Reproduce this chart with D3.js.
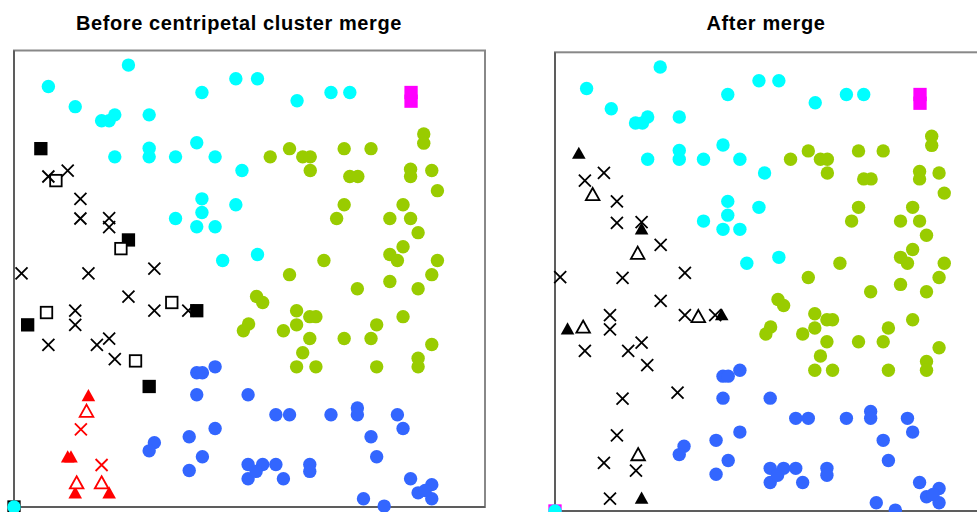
<!DOCTYPE html>
<html lang="en">
  <head>
    <meta charset="utf-8" />
    <title>Centripetal cluster merge</title>
    <script src="https://d3js.org/d3.v7.min.js"></script>
    <style>
      body { margin: 0; background: #fff; }
      svg { display: block; font-family: "Liberation Sans", Arial, sans-serif; }
    </style>
  </head>
  <body>
    <div id="chart"></div>
    <script>
      // point positions in data units (0..100 on both axes, y up)
      const cyanPts = [
        [24.3, 96.8], [7.3, 92.1], [13.0, 87.7], [18.6, 84.6], [20.2, 84.6],
        [21.4, 85.9], [28.7, 85.9], [39.9, 90.8], [47.1, 93.8], [51.7, 93.8],
        [60.1, 89.0], [67.3, 90.8], [71.3, 90.8], [21.4, 76.7], [28.7, 78.6],
        [28.7, 76.7], [34.3, 76.7], [38.8, 79.8], [42.7, 76.7], [48.4, 73.7],
        [39.9, 67.5], [47.1, 66.2], [39.9, 64.5], [34.3, 63.2], [38.8, 61.4],
        [42.7, 61.4], [44.3, 54.0], [51.7, 55.3], [0, 0]
      ];
      const magentaPts = [[84.3, 90.8], [84.3, 88.9]];
      const greenPts = [
        [54.4, 76.7], [58.5, 78.5], [61.3, 76.7], [62.9, 76.7], [62.9, 73.7],
        [70.1, 78.5], [75.8, 78.5], [71.3, 72.4], [73.0, 72.4], [87.0, 81.7],
        [87.0, 79.7], [84.2, 74.0], [84.2, 72.4], [88.7, 73.7], [89.9, 69.3],
        [70.1, 66.2], [68.5, 63.2], [82.6, 66.2], [79.8, 63.2], [84.2, 63.2],
        [85.8, 60.1], [82.6, 57.0], [79.8, 55.3], [81.4, 54.0], [89.9, 54.0],
        [65.8, 54.0], [58.5, 50.9], [79.8, 49.4], [88.7, 50.9], [72.9, 47.8],
        [85.8, 47.8], [51.5, 46.1], [52.8, 44.8], [60.0, 43.0], [62.8, 41.7],
        [64.1, 41.7], [60.0, 39.9], [49.8, 40.1], [48.7, 38.6], [57.2, 38.6],
        [62.8, 36.9], [70.1, 36.9], [75.8, 36.9], [77.0, 39.9], [82.6, 41.7],
        [88.7, 35.6], [61.3, 33.8], [60.0, 30.7], [64.1, 30.7], [77.0, 30.7],
        [85.8, 32.6], [85.8, 30.7]
      ];
      const bluePts = [
        [38.8, 29.4], [40.0, 29.4], [42.7, 30.7], [38.8, 24.6], [49.7, 24.6],
        [42.7, 17.2], [37.2, 15.4], [29.8, 14.1], [28.7, 12.3], [40.0, 11.0],
        [37.2, 8.0], [49.7, 9.3], [49.7, 6.2], [55.6, 20.2], [58.5, 20.2],
        [67.3, 20.2], [72.9, 21.7], [72.9, 20.2], [81.4, 20.2], [82.6, 17.2],
        [75.8, 15.4], [77.0, 11.0], [52.8, 9.3], [51.4, 7.8], [55.6, 9.3],
        [57.2, 6.2], [62.8, 9.3], [62.8, 7.8], [74.2, 1.8], [78.6, 0.2],
        [84.2, 6.2], [85.8, 3.1], [88.7, 4.9], [88.7, 1.8], [87.3, 3.6]
      ];

      // before merge: black and red groups
      const beforeFilledSq = [[5.7, 78.5], [24.3, 58.5], [38.8, 43.0], [2.9, 39.9], [28.7, 26.4], [0, 0]];
      const beforeOpenSq = [[8.9, 71.5], [22.7, 56.6], [33.5, 44.8], [6.9, 42.6], [25.8, 32.0]];
      const beforeCross = [
        [7.3, 72.4], [11.4, 73.7], [14.1, 67.5], [14.1, 63.2], [20.2, 63.3],
        [20.2, 61.3], [1.6, 51.2], [15.8, 51.2], [29.8, 52.2], [24.3, 46.1],
        [29.8, 43.0], [37.0, 43.0], [13.0, 43.0], [13.0, 39.9], [7.3, 35.5],
        [17.6, 35.5], [20.2, 36.9], [21.4, 32.4]
      ];
      const redFilledTri = [[15.8, 24.3], [11.4, 10.9], [12.1, 10.9], [13.0, 3.0], [20.2, 3.0]];
      const redOpenTri = [[15.4, 20.9], [13.3, 5.2], [18.6, 5.2]];
      const redCross = [[14.2, 17.0], [18.6, 9.2]];

      // after merge: one black group
      const afterFilledTri = [[5.5, 77.9], [20.0, 61.4], [38.5, 42.7], [2.9, 39.6], [20.0, 2.7]];
      const afterOpenTri = [[8.7, 68.9], [19.1, 56.1], [33.1, 42.3], [6.5, 40.0], [19.2, 12.2]];
      const afterCross = [
        [11.3, 73.7], [6.9, 72.0], [14.3, 67.5], [14.3, 62.8], [20.0, 63.0],
        [24.4, 58.0], [1.2, 51.0], [15.6, 50.8], [30.0, 51.9], [24.4, 45.8],
        [30.0, 42.7], [37.0, 42.7], [12.7, 42.7], [12.7, 39.6], [6.9, 34.9],
        [16.9, 34.9], [20.0, 36.7], [21.3, 31.8], [15.6, 24.5], [28.3, 25.8],
        [14.3, 16.5], [11.3, 10.5], [18.7, 8.8], [12.7, 2.7]
      ];
      const afterOriginSq = [[0, 0]];

      const titles = ["Before centripetal cluster merge", "After merge"];

      const width = 977;
      const height = 512;
      const svg = d3.select("#chart").append("svg")
        .attr("width", width)
        .attr("height", height);

      const panels = [
        { title: titles[0], tx: 239, left: 14, right: 485, top: 50.5, bottom: 507 },
        { title: titles[1], tx: 766, left: 555, right: 988, top: 52.3, bottom: 511 }
      ];

      const R = 6.7;
      const crossPath = "M-6,-6L6,6M-6,6L6,-6";
      const triPath = "M0,-7L6.8,5.2L-6.8,5.2Z";

      const drawPanel = (p, groups) => {
        const x = d3.scaleLinear().domain([0, 100]).range([p.left, p.right]);
        const y = d3.scaleLinear().domain([0, 100]).range([p.bottom, p.top]);
        const g = svg.append("g");

        g.append("text")
          .attr("x", p.tx)
          .attr("y", 30)
          .attr("text-anchor", "middle")
          .style("font-size", "20px")
          .style("font-weight", "bold")
          .style("letter-spacing", "0.6px")
          .attr("fill", "#000")
          .text(p.title);

        g.append("rect")
          .attr("x", p.left)
          .attr("y", p.top)
          .attr("width", p.right - p.left)
          .attr("height", p.bottom - p.top)
          .attr("fill", "none")
          .attr("stroke", "#888")
          .attr("stroke-width", 2);
        g.append("path")
          .attr("d", `M${p.left},${p.top}V${p.bottom}H${p.right}`)
          .attr("fill", "none")
          .attr("stroke", "#333")
          .attr("stroke-width", 1);

        groups.forEach((grp) => {
          const sel = g.append("g").selectAll("path").data(grp.data).enter();
          if (grp.shape === "circle") {
            sel.append("circle")
              .attr("cx", (d) => x(d[0]))
              .attr("cy", (d) => y(d[1]))
              .attr("r", R)
              .attr("fill", grp.color);
          } else if (grp.shape === "square" || grp.shape === "openSquare") {
            const s = grp.shape === "square" ? 13.3 : 11.5;
            sel.append("rect")
              .attr("x", (d) => x(d[0]) - s / 2)
              .attr("y", (d) => y(d[1]) - s / 2)
              .attr("width", s)
              .attr("height", s)
              .attr("fill", grp.shape === "square" ? grp.color : "#fff")
              .attr("stroke", grp.shape === "square" ? "none" : grp.color)
              .attr("stroke-width", 1.8);
          } else {
            const open = grp.shape === "openTri";
            sel.append("path")
              .attr("transform", (d) => `translate(${x(d[0])},${y(d[1])})`)
              .attr("d", grp.shape === "cross" ? crossPath : triPath)
              .attr("fill", grp.shape === "tri" ? grp.color : open ? "#fff" : "none")
              .attr("stroke", grp.shape === "tri" ? "none" : grp.color)
              .attr("stroke-width", 1.8);
          }
        });
      };

      drawPanel(panels[0], [
        { data: beforeFilledSq, shape: "square", color: "#000" },
        { data: beforeOpenSq, shape: "openSquare", color: "#000" },
        { data: beforeCross, shape: "cross", color: "#000" },
        { data: redFilledTri, shape: "tri", color: "#ff0000" },
        { data: redOpenTri, shape: "openTri", color: "#ff0000" },
        { data: redCross, shape: "cross", color: "#ff0000" },
        { data: magentaPts, shape: "square", color: "#ff00ff" },
        { data: cyanPts, shape: "circle", color: "#00ffff" },
        { data: greenPts, shape: "circle", color: "#99cc00" },
        { data: bluePts, shape: "circle", color: "#3366ff" }
      ]);

      drawPanel(panels[1], [
        { data: afterOriginSq, shape: "square", color: "#ff00ff" },
        { data: afterCross, shape: "cross", color: "#000" },
        { data: afterFilledTri, shape: "tri", color: "#000" },
        { data: afterOpenTri, shape: "openTri", color: "#000" },
        { data: magentaPts, shape: "square", color: "#ff00ff" },
        { data: cyanPts, shape: "circle", color: "#00ffff" },
        { data: greenPts, shape: "circle", color: "#99cc00" },
        { data: bluePts, shape: "circle", color: "#3366ff" }
      ]);
    </script>
  </body>
</html>
